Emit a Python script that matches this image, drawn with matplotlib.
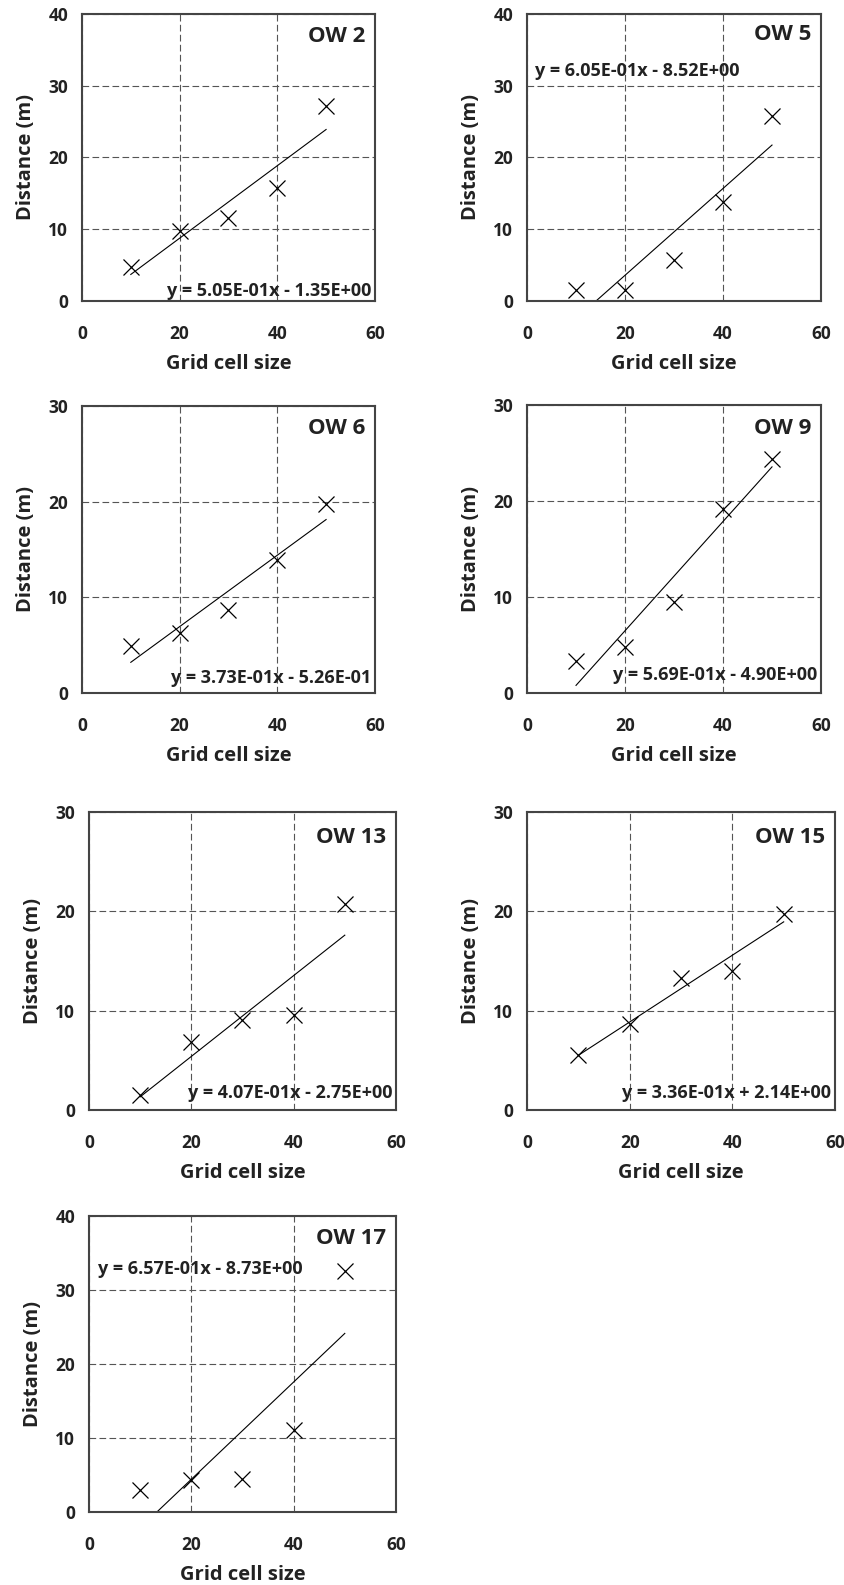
import matplotlib
matplotlib.use('Agg')
import matplotlib.pyplot as plt
import numpy as np

plt.rcParams['font.family'] = ['Open Sans', 'DejaVu Sans']
plt.rcParams['font.weight'] = 'bold'

# Data
grid_size = [10, 20, 30, 40, 50]
wells = ['OW 2', 'OW 5', 'OW 6', 'OW 9', 'OW 13', 'OW 15', 'OW 17']
distance = [
    [4.8, 9.8, 11.5, 15.7, 27.2],
    [1.5, 1.5, 5.7, 13.8, 25.8],
    [4.9, 6.3, 8.7, 13.9, 19.7],
    [3.3, 4.8, 9.5, 19.2, 24.4],
    [1.5, 6.8, 9.1, 9.6, 20.7],
    [5.5, 8.7, 13.3, 14.0, 19.7],
    [3.0, 4.3, 4.5, 11.1, 32.5],
]
slopes = [0.505, 0.605, 0.373, 0.569, 0.407, 0.336, 0.657]
intercepts = [-1.35, -8.52, -0.526, -4.90, -2.75, 2.14, -8.73]
equations = [
    'y = 5.05E-01x - 1.35E+00',
    'y = 6.05E-01x - 8.52E+00',
    'y = 3.73E-01x - 5.26E-01',
    'y = 5.69E-01x - 4.90E+00',
    'y = 4.07E-01x - 2.75E+00',
    'y = 3.36E-01x + 2.14E+00',
    'y = 6.57E-01x - 8.73E+00',
]
y_max = [40, 40, 30, 30, 30, 30, 40]

# Layout (figure fractions) and text placement
rects = [
    [0.0970, 0.8101, 0.3467, 0.1811],
    [0.6237, 0.8101, 0.3479, 0.1811],
    [0.0970, 0.5628, 0.3467, 0.1811],
    [0.6237, 0.5628, 0.3479, 0.1817],
    [0.1053, 0.2997, 0.3633, 0.1880],
    [0.6237, 0.2997, 0.3645, 0.1880],
    [0.1053, 0.0461, 0.3633, 0.1868],
]
eq_pos = [
    (0.988, 0.035, 'right'),
    (0.027, 0.80, 'left'),
    (0.988, 0.052, 'right'),
    (0.988, 0.063, 'right'),
    (0.988, 0.057, 'right'),
    (0.988, 0.057, 'right'),
    (0.030, 0.82, 'left'),
]
ow_y = [0.923, 0.927, 0.92, 0.92, 0.916, 0.916, 0.922]

fig = plt.figure(figsize=(8.45, 15.85), dpi=100)

for i in range(len(wells)):
    ax = fig.add_axes(rects[i])
    x = np.array(grid_size)
    ax.plot(x, distance[i], 'x', color='black', markersize=11, markeredgewidth=0.9)
    ax.plot(x, slopes[i] * x + intercepts[i], color='black', linewidth=0.8)

    ax.set_xlim(0, 60)
    ax.set_ylim(0, y_max[i])
    ax.set_xticks([0, 20, 40, 60])
    ax.set_yticks(np.arange(0, y_max[i] + 1, 10))
    ax.grid(True, color='#555555', linestyle=(0, (6, 3)), linewidth=0.8)
    ax.set_axisbelow(True)
    ax.tick_params(axis='x', length=0, pad=17, labelsize=12.5)
    ax.tick_params(axis='y', length=0, pad=10, labelsize=12.5)
    for lab in ax.get_xticklabels() + ax.get_yticklabels():
        lab.set_fontweight('bold')
        lab.set_color('#222222')
    for sp in ax.spines.values():
        sp.set_color('#444444')
        sp.set_linewidth(1.5)

    ax.set_xlabel('Grid cell size', fontsize=14.5, fontweight='bold', labelpad=8, color='#222222')
    ax.set_ylabel('Distance (m)', fontsize=14.5, fontweight='bold', labelpad=9, color='#222222')

    ax.text(0.968, ow_y[i], wells[i], transform=ax.transAxes, ha='right', va='center',
            fontsize=16, fontweight='bold', color='#222222')
    ex, ey, eha = eq_pos[i]
    ax.text(ex, ey, equations[i], transform=ax.transAxes, ha=eha, va='center',
            fontsize=13, fontweight='bold', color='#222222')

fig.savefig('out.png', dpi=100, facecolor='white')
